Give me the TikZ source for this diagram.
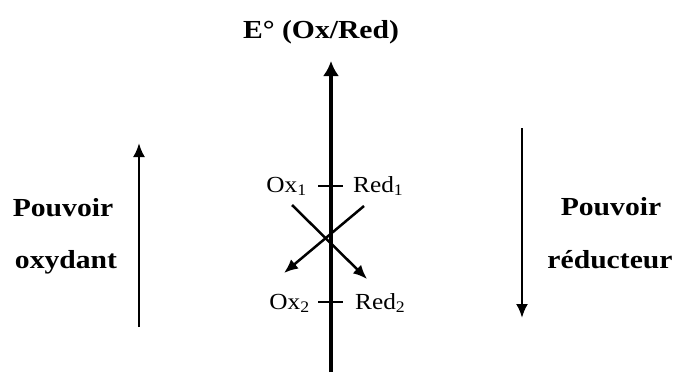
\documentclass[tikz,border=0pt]{standalone}
\usepackage{fontspec}
\setmainfont{Liberation Serif}
\usetikzlibrary{arrows.meta}
\newcommand{\wideR}[1]{\scalebox{1.1}[1]{#1}}
\newcommand{\wideB}[1]{\scalebox{1.14}[1]{#1}}
\begin{document}
\begin{tikzpicture}[x=1pt,y=-1pt,
  lbl/.style={font=\fontsize{23}{26}\selectfont, inner sep=0pt},
  bold/.style={font=\fontsize{26}{30}\selectfont\bfseries, inner sep=0pt, anchor=base},
  axis/.style={line width=3.2pt, -{Latex[length=15pt,width=16pt]}},
  arr/.style={line width=2.5pt, -{Latex[length=14pt,width=12pt]}},
  tick/.style={line width=2.2pt}]
\useasboundingbox (0,0) rectangle (677,372);
% main axis
\coordinate (axb) at (331,372);
\coordinate (axt) at (331,61);
\draw[axis] (axb) -- (axt);
\node[bold] (title) at (321,38) {\wideB{E° (Ox/Red)}};
% ticks
\coordinate (t1l) at (318,186); \coordinate (t1r) at (343,186);
\coordinate (t2l) at (318,302); \coordinate (t2r) at (343,302);
\draw[tick] (t1l) -- (t1r);
\draw[tick] (t2l) -- (t2r);
% labels
\node[lbl, anchor=base east] (ox1) at (307,192) {\wideR{Ox\textsubscript{1}}};
\node[lbl, anchor=base west] (red1) at (353,192) {\wideR{Red\textsubscript{1}}};
\node[lbl, anchor=base east] (ox2) at (310,309) {\wideR{Ox\textsubscript{2}}};
\node[lbl, anchor=base west] (red2) at (355,309) {\wideR{Red\textsubscript{2}}};
% cross arrows
\coordinate (c1s) at (292,205); \coordinate (c1e) at (367,279);
\coordinate (c2s) at (364,206); \coordinate (c2e) at (284,273);
\draw[arr] (c1s) -- (c1e);
\draw[arr] (c2s) -- (c2e);
% side arrows
\coordinate (la) at (139,327); \coordinate (lb) at (139,143);
\draw[arr] (la) -- (lb);
\coordinate (ra) at (522,128); \coordinate (rb) at (522,318);
\draw[arr] (ra) -- (rb);
% side texts
\node[bold] (po1) at (63,216) {\wideB{Pouvoir}};
\node[bold] (oxy) at (66,268) {\wideB{oxydant}};
\node[bold] (po2) at (611,215) {\wideB{Pouvoir}};
\node[bold] (red) at (610,268) {\wideB{réducteur}};
\end{tikzpicture}
\end{document}
